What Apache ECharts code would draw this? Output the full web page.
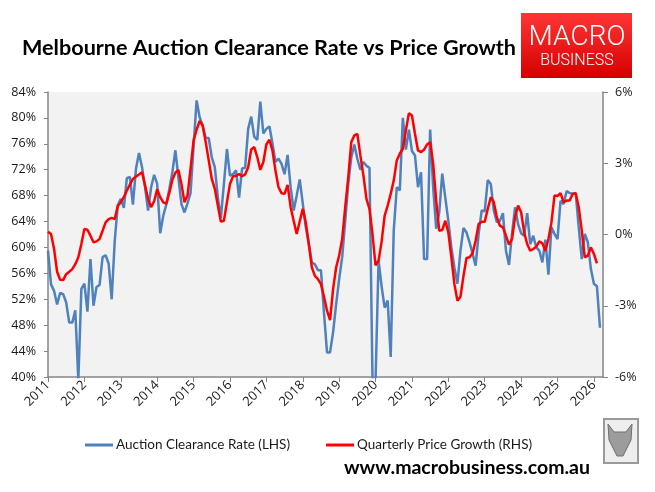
<!DOCTYPE html>
<html>
<head>
<meta charset="utf-8">
<title>Melbourne Auction Clearance Rate vs Price Growth</title>
<script src="https://cdn.jsdelivr.net/npm/echarts@6/dist/echarts.min.js"></script>
<style>
	html, body { margin: 0; padding: 0; background: #fff; }
	#chart { width: 655px; height: 492px; }
</style>
</head>
<body>
<div id="chart"></div>
<script>
	// one tick per January
	const years = [2011, 2012, 2013, 2014, 2015, 2016, 2017, 2018, 2019, 2020, 2021, 2022, 2023, 2024, 2025, 2026];

	// Melbourne auction clearance rate, monthly Jan 2011 - Mar 2026 (LHS, %)
	const clearanceRate = [
		59.5, 54.3, 53.3, 51.2, 53.0, 52.8, 51.5, 48.4, 48.4, 50.3, 39.5, 53.6,
		54.4, 50.1, 58.2, 51.0, 53.9, 54.2, 58.5, 58.8, 57.5, 52.0, 61.0, 66.5,
		67.5, 66.1, 70.7, 70.9, 66.6, 72.1, 74.6, 72.4, 69.3, 65.7, 69.3, 71.2,
		69.8, 62.2, 64.9, 66.6, 69.0, 71.6, 75.0, 70.8, 66.7, 65.4, 66.8, 68.4,
		75.6, 82.7, 80.1, 78.8, 76.9, 76.9, 73.9, 72.4, 67.7, 64.6, 69.8, 75.2,
		71.1, 71.3, 71.9, 67.7, 72.2, 72.3, 78.3, 80.2, 77.1, 76.6, 82.5, 77.6,
		78.3, 78.7, 76.1, 73.2, 73.7, 72.9, 71.3, 74.3, 69.3, 65.7, 68.0, 70.5,
		66.8, 63.1, 60.5, 57.7, 57.4, 56.5, 56.5, 49.9, 43.8, 43.8, 46.9, 51.2,
		55.1, 58.5, 64.1, 69.8, 73.9, 75.9, 73.7, 72.0, 73.2, 72.6, 72.3, 39.5,
		39.5, 58.0, 54.0, 50.7, 51.8, 43.1, 62.6, 69.3, 68.8, 80.0, 75.1, 78.2,
		74.9, 74.2, 69.3, 71.6, 58.2, 58.2, 78.2, 69.3, 62.9, 65.4, 71.4, 67.7,
		64.1, 60.0, 56.9, 54.4, 59.5, 63.0, 62.3, 60.8, 59.0, 57.2, 62.1, 65.7,
		65.6, 70.4, 69.8, 65.7, 63.9, 64.1, 65.3, 59.5, 57.3, 62.1, 66.2, 63.6,
		62.2, 61.8, 65.3, 60.5, 61.8, 60.0, 59.5, 57.7, 61.2, 55.8, 63.1, 62.1,
		61.3, 67.2, 66.7, 68.7, 68.4, 68.3, 68.4, 63.1, 58.2, 62.1, 60.8, 56.7,
		54.4, 54.0, 47.6
	];

	// quarterly dwelling price growth, monthly Jan 2011 - Feb 2026 (RHS, %)
	const priceGrowth = [
		0.12, 0.02, -0.61, -1.57, -1.91, -1.92, -1.67, -1.57, -1.46, -1.25, -0.96, -0.4,
		0.23, 0.2, -0.05, -0.33, -0.29, -0.19, 0.16, 0.51, 0.65, 0.7, 0.65, 1.2,
		1.36, 1.57, 1.85, 2.1, 2.34, 2.44, 2.53, 2.62, 2.06, 1.5, 1.15, 1.4,
		1.9, 1.57, 1.35, 1.3, 1.75, 2.3, 2.6, 2.72, 2.13, 1.36, 1.64, 2.77,
		3.96, 4.41, 4.78, 4.59, 3.89, 3.12, 2.34, 1.92, 1.22, 0.54, 0.58, 1.36,
		2.13, 2.44, 2.47, 2.55, 2.45, 2.53, 2.83, 3.58, 3.68, 3.26, 2.72, 3.05,
		3.79, 3.99, 3.54, 2.69, 1.99, 1.74, 1.71, 2.09, 1.15, 0.58, 0.02, 0.55,
		1.08, 0.51, -0.4, -1.39, -1.74, -1.88, -2.09, -2.62, -3.21, -3.61, -2.3, -1.39,
		-0.89, -0.19, 1.15, 2.41, 3.89, 4.17, 4.24, 3.33, 2.48, 1.5, 1.08, 0.0,
		-1.3, -1.1, -0.3, 0.79, 1.22, 1.71, 2.27, 3.12, 3.4, 3.61, 4.38, 5.11,
		5.01, 4.24, 3.54, 3.47, 3.57, 3.79, 3.89, 2.98, 1.43, 0.16, 0.19, 0.58,
		0.09, -0.96, -2.09, -2.79, -2.62, -1.74, -0.99, -0.96, -0.79, -0.26, 0.44, 0.54,
		0.54, 1.08, 1.57, 1.36, 0.72, 0.37, 0.3, -0.05, -0.43, -0.19, 0.72, 1.22,
		0.94, 0.09, -0.4, -0.68, -0.61, -0.51, -0.29, -0.37, -0.68, -0.19, 0.51, 1.64,
		1.62, 1.74, 1.36, 1.43, 1.43, 1.71, 1.74, 1.15, 0.16, -0.96, -0.89, -0.54,
		-0.82, -1.22
	];

	const seriesNames = ['Auction Clearance Rate (LHS)', 'Quarterly Price Growth (RHS)'];

	// month categories, axis runs to Apr 2026
	const months = [];
	years.forEach(y => {
		for (let m = 1; m <= 12; m++) {
			months.push(y + '-' + String(m).padStart(2, '0'));
		}
	});
	const categories = months.slice(0, 184);

	const axisColor = '#868686';
	const labelColor = '#1a1a1a';
	const isJan = (idx) => idx % 12 === 0;

	const chart = echarts.init(document.getElementById('chart'), null, { renderer: 'canvas' });

	const option = {
		animation: false,
		backgroundColor: '#ffffff',
		title: {
			text: 'Melbourne Auction Clearance Rate vs Price Growth',
			left: 17,
			top: 32,
			textStyle: {
				fontFamily: 'Lato',
				fontWeight: 'bold',
				fontSize: 21.6,
				color: '#000'
			}
		},
		legend: {
			left: 80,
			top: 433,
			icon: 'rect',
			itemWidth: 28,
			itemHeight: 3,
			itemGap: 36,
			data: seriesNames,
			textStyle: {
				fontFamily: 'Lato',
				fontSize: 13.5,
				color: labelColor,
				padding: [0, 0, 0, -2]
			}
		},
		grid: {
			left: 48,
			right: 52,
			top: 92,
			bottom: 115,
			show: true,
			backgroundColor: '#f2f2f2',
			borderWidth: 0
		},
		xAxis: {
			type: 'category',
			data: categories,
			boundaryGap: false,
			axisLine: { onZero: false, lineStyle: { color: axisColor, width: 1.5 } },
			axisTick: {
				show: true,
				length: 5,
				interval: isJan,
				lineStyle: { color: axisColor }
			},
			axisLabel: {
				interval: isJan,
				rotate: 45,
				margin: 6,
				fontFamily: 'Open Sans',
				fontSize: 13,
				color: labelColor,
				formatter: v => v.slice(0, 4)
			},
			splitLine: { show: false }
		},
		yAxis: [
			{
				type: 'value',
				position: 'left',
				min: 40,
				max: 84,
				interval: 4,
				axisLine: { show: true, lineStyle: { color: axisColor, width: 1.5 } },
				axisTick: { show: true, length: 4, lineStyle: { color: axisColor } },
				splitLine: { show: false },
				axisLabel: {
					formatter: '{value}%',
					margin: 12,
					fontFamily: 'Open Sans',
					fontSize: 12.5,
					color: labelColor
				}
			},
			{
				type: 'value',
				position: 'right',
				min: -6,
				max: 6,
				interval: 3,
				axisLine: { show: true, lineStyle: { color: axisColor, width: 1.5 } },
				axisTick: { show: true, length: 5, lineStyle: { color: axisColor } },
				splitLine: { show: false },
				axisLabel: {
					formatter: '{value}%',
					margin: 12,
					fontFamily: 'Open Sans',
					fontSize: 12.5,
					color: labelColor
				}
			}
		],
		series: [
			{
				name: seriesNames[0],
				type: 'line',
				yAxisIndex: 0,
				data: clearanceRate,
				symbol: 'none',
				clip: true,
				lineStyle: { color: '#4f81bd', width: 2.5 },
				itemStyle: { color: '#4f81bd' },
				z: 2
			},
			{
				name: seriesNames[1],
				type: 'line',
				yAxisIndex: 1,
				data: priceGrowth,
				symbol: 'none',
				clip: true,
				lineStyle: { color: '#ff0000', width: 2.5 },
				itemStyle: { color: '#ff0000' },
				z: 3
			}
		],
		graphic: [
			// MacroBusiness logo
			{
				type: 'rect',
				left: 521,
				top: 13,
				shape: { width: 111, height: 65 },
				style: {
					fill: new echarts.graphic.LinearGradient(0, 0, 0, 1, [
						{ offset: 0, color: '#ff3535' },
						{ offset: 1, color: '#d40000' }
					])
				}
			},
			{
				type: 'text',
				x: 577,
				y: 38,
				style: {
					text: 'MACRO',
					fill: '#fff',
					font: '300 28px Roboto',
					textAlign: 'center',
					textVerticalAlign: 'middle'
				}
			},
			{
				type: 'text',
				x: 577,
				y: 61,
				style: {
					text: 'BUSINESS',
					fill: '#fff',
					font: '300 16px Roboto',
					textAlign: 'center',
					textVerticalAlign: 'middle'
				}
			},
			// site address
			{
				type: 'text',
				x: 590,
				y: 468,
				style: {
					text: 'www.macrobusiness.com.au',
					fill: '#000',
					font: 'bold 19.5px Lato',
					textAlign: 'right',
					textVerticalAlign: 'middle'
				}
			},
			// small fox badge
			{
				type: 'rect',
				left: 603,
				top: 418,
				shape: { width: 34, height: 44 },
				style: { fill: '#eeeeee', stroke: '#9a9a9a', lineWidth: 2 }
			},
			{
				type: 'polygon',
				shape: {
					points: [[608, 424], [614, 432], [626, 432], [632, 424], [631, 440], [623, 456], [617, 456], [609, 440]]
				},
				style: { fill: '#9c9c9c', stroke: '#6f6f6f', lineWidth: 1 }
			}
		]
	};

	chart.setOption(option);
</script>
</body>
</html>
